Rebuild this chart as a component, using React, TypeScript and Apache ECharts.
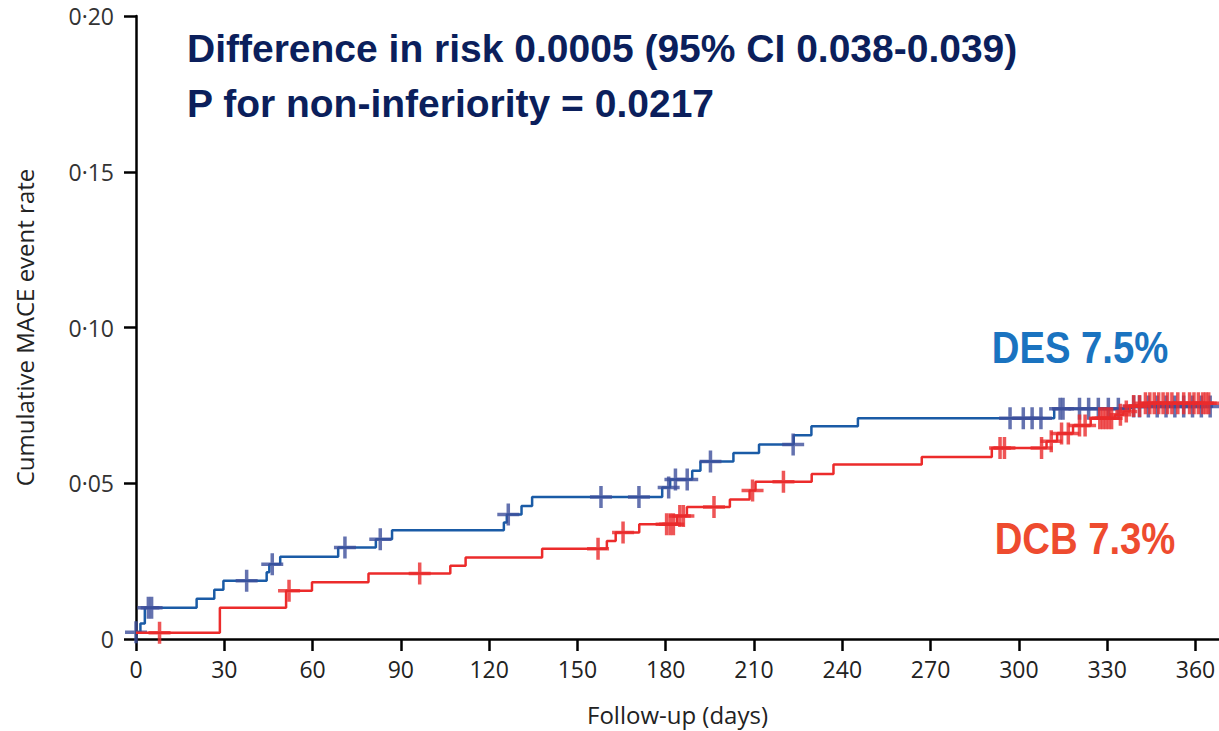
import React, { useEffect, useRef } from "react";
import * as echarts from "echarts";

// ---- data ----
const xTickValues = [0, 30, 60, 90, 120, 150, 180, 210, 240, 270, 300, 330, 360];

// DES cumulative event rate: [day, rate from that day onward]
const desSteps: [number, number][] = [
  [0, 0.0022], [1.5, 0.005], [3, 0.010], [20.6, 0.0129], [26.6, 0.0158], [29.7, 0.0187],
  [44.4, 0.0214], [45.3, 0.024], [49, 0.0264], [68.7, 0.0294], [81.5, 0.032], [87, 0.0349],
  [125, 0.0374], [126, 0.040], [131, 0.0427], [134.6, 0.0456], [178.8, 0.0486], [181.5, 0.0512],
  [189, 0.054], [191.8, 0.057], [203, 0.0597], [211.7, 0.0624], [223.5, 0.0654], [229.5, 0.0683],
  [245.3, 0.0709], [312, 0.0739], [338, 0.0746], [366, 0.0746],
];
const desCensored: number[] = [
  0, 4.2, 5.3, 37.6, 46.3, 71, 83, 126.5, 158, 170.9, 181, 183.3, 187.3, 195.2, 223.3,
  297, 301.5, 304.5, 307.5, 314, 315, 320.6, 323.7, 327, 330.4, 333.8,
  339, 341, 344, 347, 350, 353, 356, 359, 362, 365,
];

// DCB cumulative event rate
const dcbSteps: [number, number][] = [
  [0, 0.002], [28.5, 0.010], [51, 0.0155], [59.8, 0.0182], [79, 0.021], [106.8, 0.0235],
  [112, 0.0262], [138, 0.029], [160, 0.0315], [163, 0.0342], [171, 0.0368], [183.8, 0.0395],
  [187.2, 0.0424], [201.8, 0.0448], [208.5, 0.0477], [210.5, 0.0505], [229.6, 0.053], [237, 0.056],
  [267, 0.0584], [290.8, 0.0613], [309.4, 0.0635], [313, 0.066], [318.4, 0.0685], [324.4, 0.0709],
  [332.7, 0.072], [335.5, 0.073], [337.7, 0.0748], [342, 0.0757], [366, 0.0757],
];
const dcbCensored: number[] = [
  8, 52, 96.4, 157, 165.5, 180.3, 181.5, 182.6, 184.8, 186, 196.4, 209.5, 220, 293.6, 295.1,
  307.7, 311, 314.5, 316.8, 320.6, 322.5, 327.5, 328.5, 329.5, 330.5, 331.5, 334.5, 336.5,
  339, 341, 343, 344.5, 346, 347.5, 349, 350.5, 352, 354, 356, 358, 359.5, 361, 362.5, 363.5, 364.5,
];

const titleLines = [
  "Difference in risk 0.0005 (95% CI 0.038-0.039)",
  "P for non-inferiority = 0.0217",
];
const desLabel = "DES 7.5%";
const dcbLabel = "DCB 7.3%";

function stepAt(steps: [number, number][], t: number): number {
  let v = steps[0][1];
  for (const [d, r] of steps) {
    if (d <= t) v = r;
    else break;
  }
  return v;
}

const PLUS =
  "path://M-1.75,-11L1.75,-11L1.75,-1.75L11,-1.75L11,1.75L1.75,1.75L1.75,11L-1.75,11L-1.75,1.75L-11,1.75L-11,-1.75L-1.75,-1.75Z";

export default function App() {
  const ref = useRef<HTMLDivElement>(null);
  useEffect(() => {
    if (!ref.current) return;
    const chart = echarts.init(ref.current, undefined, { renderer: "svg" });
    const labelFont = "'Open Sans', 'Liberation Sans', sans-serif";
    chart.setOption({
      animation: false,
      backgroundColor: "#ffffff",
      grid: { left: 136, right: 0, top: 16, bottom: 89, containLabel: false },
      xAxis: {
        type: "value",
        min: 0,
        max: 368,
        interval: 30,
        splitLine: { show: false },
        axisLine: { show: true, lineStyle: { color: "#000", width: 2.5 } },
        axisTick: { show: true, length: 12, lineStyle: { color: "#000", width: 2.5 }, customValues: xTickValues },
        axisLabel: { margin: 18, fontSize: 23, color: "#222", fontFamily: labelFont, customValues: xTickValues },
        name: "Follow-up (days)",
        nameLocation: "middle",
        nameGap: 63,
        nameTextStyle: { fontSize: 24, color: "#222", fontFamily: labelFont },
      },
      yAxis: {
        type: "value",
        min: 0,
        max: 0.2,
        interval: 0.05,
        splitLine: { show: false },
        axisLine: { show: true, lineStyle: { color: "#000", width: 2.5 } },
        axisTick: { show: true, length: 12, lineStyle: { color: "#000", width: 2.5 } },
        axisLabel: {
          margin: 22,
          fontSize: 23,
          color: "#333",
          fontFamily: labelFont,
          formatter: (v: number) => (v === 0 ? "0" : v.toFixed(2).replace(".", "·")),
        },
        name: "Cumulative MACE event rate",
        nameLocation: "middle",
        nameGap: 100,
        nameTextStyle: { fontSize: 24, color: "#222", fontFamily: labelFont },
      },
      series: [
        {
          type: "line",
          step: "end",
          symbol: "none",
          data: desSteps,
          lineStyle: { color: "#1a5ba6", width: 2.5 },
          z: 2,
        },
        {
          type: "scatter",
          symbol: PLUS,
          symbolSize: [22, 22],
          data: desCensored.map((t) => [t, stepAt(desSteps, t)]),
          itemStyle: { color: "#3d4f9b" },
          z: 3,
        },
        {
          type: "line",
          step: "end",
          symbol: "none",
          data: dcbSteps,
          lineStyle: { color: "#ec2b2b", width: 2.5 },
          z: 4,
        },
        {
          type: "scatter",
          symbol: PLUS,
          symbolSize: [22, 22],
          data: dcbCensored.map((t) => [t, stepAt(dcbSteps, t)]),
          itemStyle: { color: "#ea2a2c" },
          z: 5,
        },
      ],
      graphic: [
        {
          type: "text",
          x: 187,
          y: 48,
          style: {
            text: titleLines[0],
            fill: "#0b1f5c",
            font: "bold 39px 'Liberation Sans', Arial, sans-serif",
            align: "left",
            verticalAlign: "middle",
          },
        },
        {
          type: "text",
          x: 187,
          y: 103,
          style: {
            text: titleLines[1],
            fill: "#0b1f5c",
            font: "bold 39px 'Liberation Sans', Arial, sans-serif",
            align: "left",
            verticalAlign: "middle",
          },
        },
        {
          type: "text",
          x: 1080,
          y: 348,
          scaleX: 0.87,
          style: {
            text: desLabel,
            fill: "#1a73c0",
            font: "bold 44px 'Liberation Sans', Arial, sans-serif",
            align: "center",
            verticalAlign: "middle",
          },
        },
        {
          type: "text",
          x: 1085,
          y: 539,
          scaleX: 0.87,
          style: {
            text: dcbLabel,
            fill: "#ee4b2f",
            font: "bold 44px 'Liberation Sans', Arial, sans-serif",
            align: "center",
            verticalAlign: "middle",
          },
        },
      ],
    });
    return () => chart.dispose();
  }, []);
  return (
    <div
      ref={ref}
      style={{ position: "fixed", left: 0, top: 0, width: 1219, height: 731, background: "#fff" }}
    />
  );
}
